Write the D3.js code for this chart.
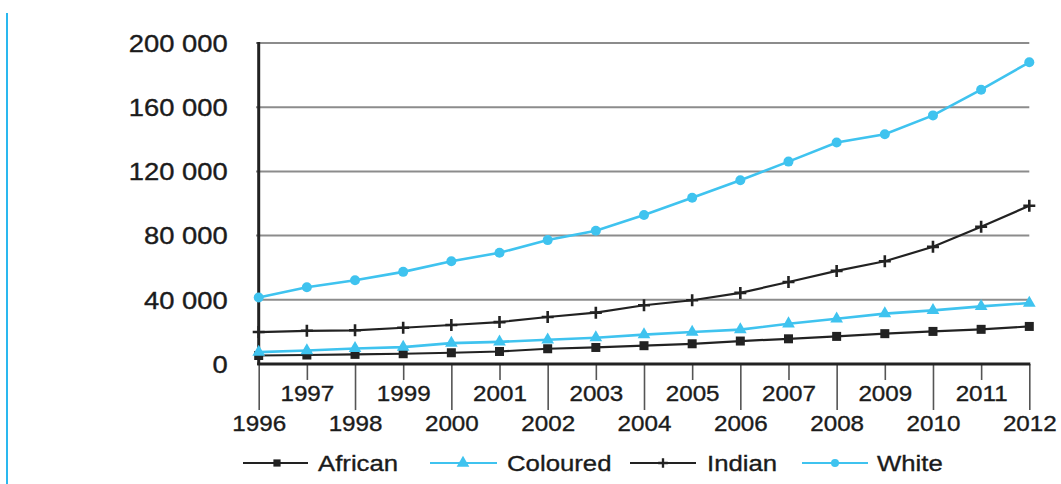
<!DOCTYPE html>
<html>
<head>
<meta charset="utf-8">
<script src="https://cdn.jsdelivr.net/npm/d3@7"></script>
<style>
  html, body { margin: 0; padding: 0; background: #fff; }
  svg { display: block; font-family: "Liberation Sans", Arial, sans-serif; }
  svg text { stroke: #1b1b1b; stroke-width: 0.35px; }
</style>
</head>
<body>
<svg id="chart" width="1061" height="484"></svg>
<script>
// Yearly totals by population group, 1996-2012
const years = [1996, 1997, 1998, 1999, 2000, 2001, 2002, 2003, 2004, 2005, 2006, 2007, 2008, 2009, 2010, 2011, 2012];
const african  = [5300, 5600, 6000, 6400, 7000, 7800, 9500, 10300, 11400, 12600, 14300, 15700, 17200, 18900, 20300, 21600, 23400];
const coloured = [7400, 8400, 9700, 10500, 13000, 13800, 15100, 16400, 18300, 19900, 21400, 25100, 28200, 31400, 33400, 35900, 38000];
const indian   = [19900, 20700, 21000, 22600, 24300, 26100, 29300, 32000, 36600, 39700, 44300, 51100, 58000, 64000, 73000, 85500, 98600];
const white    = [41400, 47800, 52200, 57400, 64000, 69300, 77200, 83000, 92800, 103600, 114500, 126100, 138000, 143200, 154900, 170900, 188000];
const yTicks = [0, 40000, 80000, 120000, 160000, 200000];
const seriesNames = ["African", "Coloured", "Indian", "White"];

const BLUE = "#3fc3ef", DARK = "#222222", GRID = "#8c8c8c", TEXT = "#1b1b1b";

const series = [
  { name: seriesNames[0], values: african,  color: DARK, marker: "square" },
  { name: seriesNames[1], values: coloured, color: BLUE, marker: "triangle" },
  { name: seriesNames[2], values: indian,   color: DARK, marker: "plus" },
  { name: seriesNames[3], values: white,    color: BLUE, marker: "circle" }
];

const svg = d3.select("#chart");
const x = d3.scaleLinear().domain([1996, 2012]).range([258.7, 1029.3]);
const y = d3.scaleLinear().domain([0, 200000]).range([364, 43]);

const fmt = v => v === 0 ? "0" : d3.format(",")(v).replace(/,/g, " ");

// decorative rule at the left edge
svg.append("line").attr("x1", 7).attr("x2", 7).attr("y1", 13).attr("y2", 484)
  .attr("stroke", "#2ab8ef").attr("stroke-width", 2);

// horizontal gridlines
svg.append("g").selectAll("line").data(yTicks.filter(d => d > 0)).join("line")
  .attr("x1", 256).attr("x2", x(2012))
  .attr("y1", d => y(d)).attr("y2", d => y(d))
  .attr("stroke", GRID).attr("stroke-width", 2);

// y axis labels
const yAxis = svg.append("g").attr("transform", `translate(${x(1996)},0)`)
  .call(d3.axisLeft(y).tickValues(yTicks).tickFormat(fmt).tickSize(0).tickPadding(0));
yAxis.select(".domain").remove();
const ySx = 1.19;
yAxis.selectAll("text")
  .attr("font-size", 23).attr("fill", TEXT).attr("font-family", null)
  .attr("x", -31 / ySx).attr("dy", "0.36em")
  .attr("transform", `scale(${ySx},1)`);

// x axis: odd years on the upper row, even years on the lower row
const xSx = 1.1;
function xRow(vals, len, labelY) {
  const g = svg.append("g").attr("transform", `translate(0,${y(0)})`)
    .call(d3.axisBottom(x).tickValues(vals).tickFormat(d3.format("d")).tickSize(len).tickPadding(0));
  g.select(".domain").remove();
  g.selectAll(".tick line").attr("stroke", "#555").attr("stroke-width", 1.6);
  g.selectAll("text")
    .attr("font-size", 22).attr("fill", TEXT).attr("font-family", null)
    .attr("y", labelY).attr("dy", "0.36em").attr("x", 0)
    .attr("transform", `scale(${xSx},1)`);
}
xRow(years.filter(d => d % 2 === 1), 16, 29);
xRow(years.filter(d => d % 2 === 0), 46, 59);

// axis lines
svg.append("line").attr("x1", x(1996) - 1.5).attr("x2", x(2012) + 1)
  .attr("y1", y(0)).attr("y2", y(0)).attr("stroke", DARK).attr("stroke-width", 3);
svg.append("line").attr("x1", x(1996)).attr("x2", x(1996))
  .attr("y1", y(200000) - 1).attr("y2", y(0) + 1).attr("stroke", DARK).attr("stroke-width", 3);

// markers; k scales them down for the legend
function drawMarker(sel, type, color, k = 1) {
  if (type === "square") {
    const h = 4.5 * k;
    sel.append("rect").attr("x", -h).attr("y", -h).attr("width", 2 * h).attr("height", 2 * h).attr("fill", color);
  } else if (type === "triangle") {
    sel.append("path").attr("d", d3.symbol(d3.symbolTriangle, 70 * k * k)()).attr("fill", color);
  } else if (type === "plus") {
    const a = 6 * k;
    sel.append("path").attr("d", `M${-a},0H${a}M0,${-a}V${a}`).attr("stroke", color).attr("stroke-width", 2.6 * Math.min(1, k + 0.1));
  } else {
    sel.append("circle").attr("r", 5 * k).attr("fill", color);
  }
}

const line = d3.line().x((d, i) => x(years[i])).y(d => y(d));

series.forEach(s => {
  const g = svg.append("g");
  g.append("path").datum(s.values).attr("d", line)
    .attr("fill", "none").attr("stroke", s.color)
    .attr("stroke-width", s.marker === "circle" || s.marker === "triangle" ? 2.6 : 2.2);
  g.selectAll("g.pt").data(s.values).join("g").attr("class", "pt")
    .attr("transform", (d, i) => `translate(${x(years[i])},${y(d)})`)
    .each(function () { drawMarker(d3.select(this), s.marker, s.color); });
});

// legend
const legendPos = [
  { x1: 243, x2: 308, m: 277, t: 318 },
  { x1: 430, x2: 497, m: 463, t: 507 },
  { x1: 630, x2: 696, m: 663, t: 707 },
  { x1: 802, x2: 868, m: 835, t: 877 }
];
const ly = 463, lSx = 1.12;
series.forEach((s, i) => {
  const p = legendPos[i];
  const g = svg.append("g");
  g.append("line").attr("x1", p.x1).attr("x2", p.x2).attr("y1", ly).attr("y2", ly)
    .attr("stroke", s.color).attr("stroke-width", 2.2);
  const m = g.append("g").attr("transform", `translate(${p.m},${ly})`);
  drawMarker(m, s.marker, s.color, s.marker === "triangle" ? 1 : 0.8);
  g.append("text").attr("transform", `translate(${p.t},${ly}) scale(${lSx},1)`)
    .attr("dy", "0.36em").attr("font-size", 23).attr("fill", TEXT).text(s.name);
});
</script>
</body>
</html>
